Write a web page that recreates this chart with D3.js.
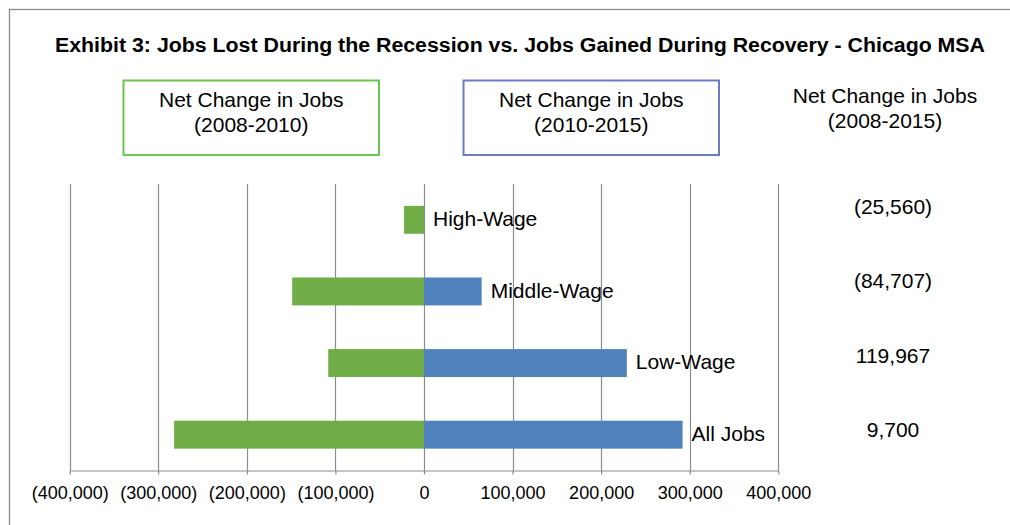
<!DOCTYPE html>
<html>
<head>
<meta charset="utf-8">
<script src="https://cdn.jsdelivr.net/npm/d3@7"></script>
<style>
  body { margin: 0; background: #fff; }
  svg { display: block; font-family: "Liberation Sans", Arial, sans-serif; }
</style>
</head>
<body>
<div id="chart"></div>
<script>
// Chart data
const categories = ['High-Wage', 'Middle-Wage', 'Low-Wage', 'All Jobs'];
const recession = [-22500, -148800, -108100, -282100];   // 2008-2010
const recovery = [0, 65100, 229000, 291900];              // 2010-2015
const netChange = [-25560, -84707, 119967, 9700];         // 2008-2015
const xTicks = [-400000, -300000, -200000, -100000, 0, 100000, 200000, 300000, 400000];
const legendLabels = ['(2008-2010)', '(2010-2015)', '(2008-2015)'];

const width = 1010;
const height = 525;
const green = '#70ad47';
const blue = '#4f81bd';
const grid = '#8c8c8c';

const fmtNum = d => d < 0 ? `(${d3.format(',')(-d)})` : d3.format(',')(d);

const svg = d3.select('#chart').append('svg')
  .attr('width', width)
  .attr('height', height);

// Outer frame (runs off the right and bottom edge)
svg.append('rect')
  .attr('x', 9.5).attr('y', 9.5)
  .attr('width', width + 20).attr('height', height + 20)
  .attr('fill', 'none')
  .attr('stroke', '#8a8a8a')
  .attr('stroke-width', 1.3);

// Title
svg.append('text')
  .attr('x', 520).attr('y', 51.5)
  .attr('text-anchor', 'middle')
  .attr('font-size', 20)
  .attr('font-weight', 'bold')
  .attr('fill', '#000')
  .attr('textLength', 930)
  .attr('lengthAdjust', 'spacingAndGlyphs')
  .text('Exhibit 3: Jobs Lost During the Recession vs. Jobs Gained During Recovery - Chicago MSA');

// Legend boxes
const legend = [
  { x: 123.5, w: 255.5, color: '#6cc551', label: legendLabels[0] },
  { x: 463.5, w: 255.5, color: '#6c79c3', label: legendLabels[1] }
];
legend.forEach(l => {
  svg.append('rect')
    .attr('x', l.x).attr('y', 80.5)
    .attr('width', l.w).attr('height', 74.5)
    .attr('fill', 'none')
    .attr('stroke', l.color)
    .attr('stroke-width', 2);
  const t = svg.append('text')
    .attr('text-anchor', 'middle')
    .attr('font-size', 21)
    .attr('fill', '#000');
  t.append('tspan').attr('x', l.x + l.w / 2).attr('y', 107).text('Net Change in Jobs');
  t.append('tspan').attr('x', l.x + l.w / 2).attr('y', 131.5).text(l.label);
});

const head = svg.append('text')
  .attr('text-anchor', 'middle')
  .attr('font-size', 21)
  .attr('fill', '#000');
head.append('tspan').attr('x', 885).attr('y', 103).text('Net Change in Jobs');
head.append('tspan').attr('x', 885).attr('y', 127.5).text(legendLabels[2]);

// Scales
const x = d3.scaleLinear()
  .domain([-400000, 400000])
  .range([69.7, 778.3]);

const y = d3.scaleBand()
  .domain(categories)
  .range([184, 470.5])
  .paddingInner(0.61)
  .paddingOuter(0.305);

const yNet = d3.scalePoint()
  .domain(categories)
  .range([213.5, 437]);

// Vertical gridlines
svg.append('g')
  .selectAll('line')
  .data(xTicks)
  .join('line')
  .attr('x1', d => Math.round(x(d)) + 0.5)
  .attr('x2', d => Math.round(x(d)) + 0.5)
  .attr('y1', 184)
  .attr('y2', 470.5)
  .attr('stroke', grid)
  .attr('stroke-width', 1.2);

// Bars
const rows = categories.map((c, i) => ({ cat: c, rec: recession[i], recov: recovery[i], net: netChange[i] }));

svg.append('g')
  .selectAll('rect')
  .data(rows)
  .join('rect')
  .attr('x', d => x(d.rec))
  .attr('y', d => y(d.cat))
  .attr('width', d => x(0) - x(d.rec))
  .attr('height', y.bandwidth())
  .attr('fill', green);

svg.append('g')
  .selectAll('rect')
  .data(rows.filter(d => d.recov > 0))
  .join('rect')
  .attr('x', x(0))
  .attr('y', d => y(d.cat))
  .attr('width', d => x(d.recov) - x(0))
  .attr('height', y.bandwidth())
  .attr('fill', blue);

// Category labels at the end of each bar
svg.append('g')
  .selectAll('text')
  .data(rows)
  .join('text')
  .attr('x', d => x(Math.max(0, d.recov)) + 9)
  .attr('y', d => y(d.cat) + y.bandwidth() / 2)
  .attr('dy', '0.3em')
  .attr('font-size', 21)
  .attr('fill', '#000')
  .text(d => d.cat);

// Net change column
svg.append('g')
  .selectAll('text')
  .data(rows)
  .join('text')
  .attr('x', 893)
  .attr('y', d => yNet(d.cat))
  .attr('text-anchor', 'middle')
  .attr('font-size', 21)
  .attr('fill', '#000')
  .text(d => fmtNum(d.net));

// Bottom axis
const axis = d3.axisBottom(x)
  .tickValues(xTicks)
  .tickFormat(fmtNum)
  .tickSize(4)
  .tickSizeOuter(0)
  .tickPadding(11.5);

const gx = svg.append('g')
  .attr('transform', 'translate(0, 470.5)')
  .call(axis);
gx.select('.domain').attr('stroke', grid).attr('stroke-width', 1.2);
gx.selectAll('.tick line').attr('stroke', grid).attr('stroke-width', 1.2);
gx.selectAll('.tick text')
  .attr('font-size', 18)
  .attr('font-family', '"Liberation Sans", Arial, sans-serif')
  .attr('fill', '#000');
</script>
</body>
</html>
